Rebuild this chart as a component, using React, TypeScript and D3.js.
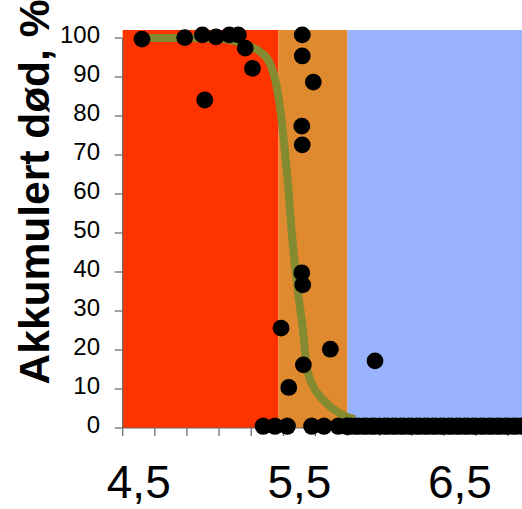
import React from 'react'
import * as d3 from 'd3'

// measured points (x = pH-like value, y = cumulative death %)
const pointX = [4.52, 4.786, 4.896, 4.981, 5.064, 5.12, 5.163, 5.208, 4.911,
  5.518, 5.518, 5.587, 5.515, 5.518, 5.515, 5.521, 5.386, 5.693, 5.525, 5.434, 5.971]
const pointY = [99.7, 100.1, 100.8, 100.3, 100.8, 100.8, 97.4, 92.2, 84.1,
  100.8, 95.4, 88.7, 77.4, 72.6, 39.8, 36.7, 25.6, 20.2, 16.2, 10.4, 17.2]

// points lying on the zero line
const zeroX = [5.275, 5.348, 5.425, 5.577, 5.653, 5.742, 5.795,
  5.80, 5.82, 5.85, 5.87, 5.90, 5.92, 5.95, 5.97, 6.00, 6.03, 6.05, 6.08, 6.10,
  6.13, 6.15, 6.18, 6.20, 6.23, 6.25, 6.28, 6.30, 6.33, 6.35, 6.38, 6.40, 6.43,
  6.45, 6.48, 6.50, 6.53, 6.55, 6.58, 6.60, 6.63, 6.65, 6.68, 6.70, 6.73, 6.75,
  6.78, 6.80, 6.83, 6.85, 6.88, 6.90, 6.93, 6.96]
const zeroY = 0.5

// fitted curve
const curveX = [4.52, 4.8, 5.0, 5.1, 5.18, 5.255, 5.317, 5.359, 5.39, 5.411, 5.431,
  5.447, 5.462, 5.48, 5.498, 5.52, 5.546, 5.587, 5.63, 5.67, 5.73, 5.795, 5.846]
const curveY = [100, 100, 99.8, 99.2, 98, 96.5, 93.5, 87.5, 79, 70.4, 61.9,
  53, 46, 39, 32.8, 26, 15.7, 10.6, 8, 6.3, 4.3, 2.9, 2.3]

// background zones
const zoneStart = [4.4, 5.37, 5.8]
const zoneEnd = [5.37, 5.8, 6.9]
const zoneColor = ['#ff3300', '#e08a30', '#99b3ff']

const yTicks = [0, 10, 20, 30, 40, 50, 60, 70, 80, 90, 100]
const xTicks = d3.range(0, 13).map(i => +(4.4 + i * 0.2).toFixed(1))
const xLabels = [4.5, 5.5, 6.5]

const W = 522
const H = 509

const App = () => {
  const x = d3.scaleLinear().domain([4.4, 6.9]).range([122.7, 524.2])
  const y = d3.scaleLinear().domain([0, 100]).range([428, 38])
  const top = y(102.05)

  const line = d3.line<number>()
    .x((d, i) => x(curveX[i]))
    .y(d => y(d))
    .curve(d3.curveMonotoneX)

  const font = 'Liberation Sans, Arial, sans-serif'

  return (
    <svg width={W} height={H} style={{ position: 'absolute', left: 0, top: 0 }}>
      {zoneStart.map((s, i) => (
        <rect key={'z' + i} x={x(s)} y={top} width={x(zoneEnd[i]) - x(s)}
          height={y(0) - top} fill={zoneColor[i]} />
      ))}

      <g stroke='#666' strokeWidth={1.2}>
        <line x1={x(4.4)} x2={x(4.4)} y1={y(100)} y2={y(0)} />
        <line x1={x(4.4)} x2={W} y1={y(0)} y2={y(0)} />
        {yTicks.map(t => <line key={'yt' + t} x1={x(4.4) - 8} x2={x(4.4)} y1={y(t)} y2={y(t)} />)}
        {xTicks.map(t => <line key={'xt' + t} x1={x(t)} x2={x(t)} y1={y(0)} y2={y(0) + 8} />)}
      </g>

      <path d={line(curveY) || ''} fill='none' stroke='#848a30' strokeWidth={8} />

      <g fill='#000'>
        {pointX.map((px, i) => <circle key={'p' + i} cx={x(px)} cy={y(pointY[i])} r={8.4} />)}
        {zeroX.map((px, i) => <circle key={'o' + i} cx={x(px)} cy={y(zeroY)} r={8.6} />)}
      </g>

      <g fontFamily={font} fontSize={24} textAnchor='end'>
        {yTicks.map(t => <text key={'yl' + t} x={100} y={y(t) + 4.5}>{t}</text>)}
      </g>

      <g fontFamily={font} fontSize={46} textAnchor='middle'>
        {xLabels.map(t => <text key={'xl' + t} x={x(t)} y={498}>{String(t).replace('.', ',')}</text>)}
      </g>

      <text transform='translate(49,192) rotate(-90)' textAnchor='middle'
        fontFamily={font} fontSize={42.5} fontWeight='bold'>Akkumulert død, %</text>
    </svg>
  )
}

export default App
